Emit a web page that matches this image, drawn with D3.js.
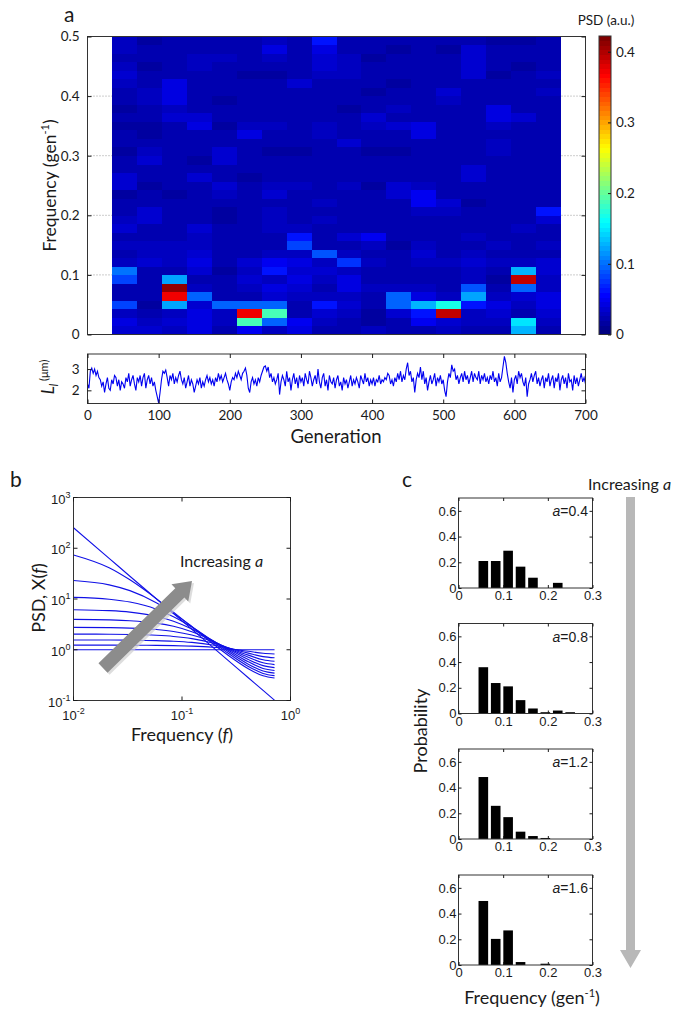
<!DOCTYPE html>
<html><head><meta charset="utf-8">
<script src="https://cdn.jsdelivr.net/npm/d3@7"></script>
<style>body{margin:0;background:#fff}svg{display:block}</style>
</head><body>
<svg id="c" width="680" height="1018"></svg>
<script>
// ---------------- DATA ----------------
// Panel a: spectrogram columns (generation window starts), rows = frequency bins (bottom -> top)
const heatColStart = [35,70,105,140,175,210,245,280,315,350,385,420,455,490,525,560,595,630];
const heatColWidth = 35;
const heatRowCount = 35;
const heatFreqMax = 0.5;
const psdCol0  = [.038,.042,.032,.080,.025,.022,.085,.102,.030,.026,.028,.024,.034,.032,.020,.024,.018,.036,.034,.022,.020,.018,.024,.020,.016,.022,.018,.020,.022,.032,.034,.030,.020,.030,.028];
const psdCol1  = [.036,.030,.020,.018,.022,.020,.026,.024,.038,.028,.030,.026,.022,.034,.036,.024,.020,.018,.022,.026,.034,.032,.020,.018,.016,.020,.022,.030,.032,.026,.020,.018,.022,.020,.018];
const psdCol2  = [.028,.034,.030,.122,.374,.410,.122,.020,.032,.028,.030,.022,.020,.024,.022,.020,.018,.020,.022,.026,.024,.020,.022,.026,.024,.034,.030,.040,.044,.040,.026,.022,.024,.020,.022];
const psdCol3  = [.040,.044,.046,.036,.098,.030,.024,.036,.040,.038,.028,.032,.036,.024,.022,.020,.024,.022,.034,.020,.018,.020,.022,.020,.046,.036,.024,.022,.020,.024,.022,.030,.032,.024,.026];
const psdCol4  = [.020,.032,.028,.098,.022,.020,.024,.018,.022,.020,.024,.026,.020,.018,.016,.022,.028,.036,.020,.026,.034,.036,.024,.020,.018,.022,.020,.018,.022,.020,.026,.024,.030,.022,.020];
const psdCol5  = [.048,.185,.374,.098,.020,.032,.036,.030,.034,.026,.022,.024,.020,.022,.026,.024,.020,.022,.018,.020,.022,.020,.024,.046,.030,.022,.020,.024,.022,.020,.018,.022,.020,.024,.022];
const psdCol6  = [.030,.098,.190,.098,.036,.040,.030,.060,.050,.028,.024,.022,.030,.028,.032,.026,.036,.030,.022,.020,.024,.018,.022,.020,.030,.026,.020,.024,.022,.020,.018,.026,.028,.040,.030];
const psdCol7  = [.044,.052,.026,.022,.030,.034,.046,.038,.042,.028,.082,.065,.030,.020,.022,.024,.026,.028,.024,.020,.022,.018,.024,.022,.020,.026,.024,.022,.026,.034,.024,.022,.020,.024,.022];
const psdCol8  = [.022,.030,.036,.060,.032,.026,.030,.038,.028,.088,.026,.024,.022,.028,.026,.030,.024,.020,.022,.024,.020,.026,.022,.030,.028,.024,.022,.026,.020,.024,.028,.034,.036,.040,.062];
const psdCol9  = [.022,.026,.030,.038,.032,.046,.046,.030,.076,.028,.026,.034,.024,.022,.026,.024,.022,.028,.024,.020,.022,.024,.034,.022,.020,.024,.018,.022,.020,.024,.030,.032,.030,.022,.020];
const psdCol10 = [.030,.018,.016,.020,.022,.030,.024,.026,.030,.024,.028,.050,.024,.020,.022,.020,.024,.018,.020,.022,.020,.018,.022,.020,.030,.034,.022,.020,.018,.020,.022,.020,.018,.020,.022];
const psdCol11 = [.022,.026,.038,.095,.095,.030,.020,.024,.022,.020,.018,.020,.022,.020,.024,.022,.034,.034,.022,.020,.024,.018,.020,.022,.034,.026,.030,.022,.020,.018,.020,.022,.020,.018,.020];
const psdCol12 = [.026,.048,.062,.131,.040,.030,.026,.024,.028,.036,.030,.024,.022,.026,.030,.052,.050,.028,.024,.026,.022,.020,.024,.040,.040,.026,.022,.020,.024,.022,.020,.022,.020,.024,.022];
const psdCol13 = [.030,.038,.394,.168,.030,.026,.024,.022,.030,.026,.024,.022,.026,.024,.028,.034,.022,.020,.024,.022,.020,.024,.022,.020,.024,.022,.020,.028,.034,.024,.020,.022,.020,.018,.020];
const psdCol14 = [.026,.030,.032,.060,.124,.090,.028,.030,.034,.028,.026,.030,.024,.022,.020,.018,.022,.024,.038,.036,.022,.020,.024,.022,.020,.024,.022,.020,.024,.026,.034,.036,.038,.034,.022];
const psdCol15 = [.022,.030,.036,.046,.030,.020,.018,.024,.030,.026,.028,.024,.022,.026,.024,.020,.026,.022,.020,.024,.022,.030,.030,.022,.028,.040,.042,.026,.022,.020,.018,.020,.022,.020,.018];
const psdCol16 = [.128,.147,.026,.030,.038,.098,.390,.126,.030,.026,.024,.022,.030,.024,.022,.020,.024,.026,.022,.020,.022,.024,.022,.020,.026,.034,.022,.026,.022,.024,.020,.018,.022,.020,.018];
const psdCol17 = [.024,.030,.036,.042,.042,.030,.028,.034,.034,.026,.030,.024,.026,.034,.062,.026,.022,.024,.022,.020,.024,.022,.020,.024,.022,.020,.022,.024,.028,.026,.030,.024,.022,.026,.024];
const psdColorMax = 0.4222;
const psdColorTicks = [0,0.1,0.2,0.3,0.4];
const heatFreqTicks = [0,0.1,0.2,0.3,0.4,0.5];

// Panel a lower: cell length trace, one value every 2 generations (0..700)
const lengthStep = 2;
const lengthVals = [
2.3,2.1,2.9,3.05,2.8,3.0,2.7,2.9,2.6,2.5,2.2,2.4,1.9,2.3,2.6,2.1,2.0,2.5,2.3,2.7,2.6,2.2,2.5,2.0,2.4,
2.3,2.1,2.6,2.4,2.8,2.2,2.5,2.7,2.3,2.0,2.6,2.4,2.7,2.2,2.6,2.8,2.1,2.5,2.7,2.3,2.6,2.2,2.4,2.0,1.7,
1.4,1.9,2.5,2.9,2.8,2.95,2.6,2.2,2.7,2.5,2.8,2.3,2.6,2.4,2.7,2.9,2.5,2.3,2.6,2.1,2.4,2.7,2.2,2.5,2.3,
1.9,2.2,2.5,2.3,2.6,2.1,2.4,2.2,2.5,2.7,2.4,2.6,2.3,2.5,2.2,2.6,2.4,2.8,2.5,2.7,2.4,2.6,2.8,2.5,2.3,
2.0,2.4,2.6,2.5,2.8,2.6,2.9,2.7,2.5,2.8,2.9,3.05,2.7,2.1,1.9,2.4,2.6,2.3,2.5,2.2,2.6,2.4,2.7,2.9,3.1,
3.15,2.9,3.1,2.6,2.8,2.4,2.6,2.3,2.5,2.8,1.8,2.4,2.7,2.5,2.2,2.9,2.4,2.6,2.0,2.5,2.8,2.3,2.6,2.1,2.7,
2.4,2.6,2.2,2.8,2.5,2.3,2.9,2.6,2.2,2.5,2.7,2.3,3.0,2.4,2.1,2.6,2.8,2.2,2.5,2.0,2.7,2.4,2.3,2.6,2.1,
2.5,2.7,2.2,2.4,2.0,2.6,2.3,2.5,2.1,2.4,2.7,2.2,2.5,2.3,2.6,2.4,2.1,2.7,2.5,2.3,2.8,2.4,2.6,2.2,2.5,
2.3,2.6,2.2,2.5,2.4,2.7,2.3,2.5,2.4,2.6,2.5,2.8,2.7,2.3,2.5,2.2,2.6,2.4,2.8,2.5,2.9,2.4,2.7,2.5,3.0,
3.3,2.7,2.9,2.4,2.6,1.9,2.5,2.8,2.6,3.1,2.5,2.9,2.3,2.6,2.0,2.4,2.7,2.3,2.5,2.8,2.2,2.6,2.4,2.7,2.3,
2.5,2.0,1.7,2.4,2.8,2.6,3.2,2.9,3.0,2.5,2.7,2.3,2.6,2.8,2.4,2.9,2.5,2.7,2.3,2.6,2.9,2.4,2.8,2.6,2.5,
2.9,2.3,2.7,2.5,2.8,2.4,2.6,2.3,2.7,2.5,2.9,2.4,2.6,2.2,2.8,2.4,2.6,3.1,3.6,3.3,2.8,2.4,2.1,2.6,1.9,
2.5,2.7,2.3,2.9,2.6,2.8,2.4,2.2,2.6,1.7,2.3,2.5,2.8,2.4,2.7,2.9,2.3,2.6,2.2,2.5,2.7,2.1,2.6,2.4,2.8,
2.2,2.5,2.7,2.1,2.6,2.4,2.8,2.0,2.5,2.7,2.3,2.6,2.1,2.8,2.4,2.5,2.0,2.7,2.3,2.6,2.2,2.5,2.8,2.4,2.6,
2.3];
const genTicks = [0,100,200,300,400,500,600,700];
const lengthTicks = [2,3];
const lengthDomain = [1.38,3.71];

// Panel b: PSD curves (x positions)
const freqB = [0.01,0.0213,0.0331,0.0579,0.0835,0.1232,0.1917,0.2624,0.4083,0.5588,0.7126];
const psdA0 = [1,1,1,1,1,1,1,1,1,1,1];
const psdA1 = [1.234,1.232,1.229,1.220,1.206,1.179,1.121,1.055,0.933,0.853,0.826];
const psdA2 = [1.561,1.555,1.545,1.516,1.475,1.396,1.242,1.091,0.859,0.733,0.694];
const psdA3 = [2.036,2.021,1.997,1.925,1.828,1.654,1.356,1.105,0.784,0.635,0.592];
const psdA4 = [2.766,2.730,2.673,2.505,2.293,1.950,1.450,1.096,0.711,0.553,0.510];
const psdA5 = [3.969,3.878,3.735,3.345,2.897,2.268,1.510,1.063,0.641,0.486,0.444];
const psdA6 = [6.159,5.901,5.517,4.572,3.647,2.569,1.528,1.011,0.578,0.429,0.391];
const psdA7 = [10.78,9.897,8.711,6.308,4.479,2.798,1.499,0.946,0.520,0.381,0.346];
const psdA8 = [23.17,19.01,14.63,8.452,5.201,2.894,1.429,0.873,0.469,0.341,0.309];
const psdA9 = [73.80,41.33,23.88,10.19,5.515,2.827,1.330,0.798,0.423,0.306,0.277];
const psdSteep = [253.3,63.3,28.1,10.13,5.17,2.533,1.126,0.633,0.281,0.158,0.101];
const psdBXTicks = [-2,-1,0];
const psdBYTicks = [-1,0,1,2,3];

// Panel c: histograms
const histCenters = [0.0556,0.0833,0.1111,0.1389,0.1667,0.1944,0.2222,0.25];
const histA04 = [0.21,0.21,0.29,0.166,0.08,0,0.04,0];
const histA08 = [0.36,0.237,0.211,0.104,0.039,0.01,0.023,0.01];
const histA12 = [0.482,0.258,0.17,0.057,0.023,0.008,0,0];
const histA16 = [0.498,0.203,0.269,0.023,0,0.01,0,0];
const histLabels = ["0.4","0.8","1.2","1.6"];
const histXTicks = [0,0.1,0.2,0.3];
const histYTicks = [0,0.2,0.4,0.6];

// ---------------- DRAW ----------------
const svg = d3.select('#c');
const CAL = 'Lato, "Open Sans", sans-serif';
const HEL = '"Liberation Sans", Arial, sans-serif';
const INK = '#1a1a1a';

function jet(v){
  let t = Math.max(0, Math.min(1, v / psdColorMax));
  const i = Math.min(63, Math.floor(t * 64));
  const q = i / 63;
  const cl = x => Math.max(0, Math.min(1, x));
  return d3.rgb(255*cl(1.5-Math.abs(4*q-3)), 255*cl(1.5-Math.abs(4*q-2)), 255*cl(1.5-Math.abs(4*q-1))).toString();
}
function styleAxis(g, font, size){
  g.select('.domain').remove();
  g.selectAll('line').attr('stroke', INK).attr('stroke-width', 1);
  g.selectAll('text').attr('font-family', font).attr('font-size', size).attr('fill', INK);
}
function box(x0,y0,x1,y1){
  svg.append('rect').attr('x',x0).attr('y',y0).attr('width',x1-x0).attr('height',y1-y0)
    .attr('fill','none').attr('stroke','#333').attr('stroke-width',1);
}
function panelLetter(t,x,y){
  svg.append('text').attr('x',x).attr('y',y).text(t).attr('font-family',CAL).attr('font-size',21).attr('fill',INK);
}

// ===== Panel a =====
panelLetter('a', 64, 22);
const A = {x0:87.5, x1:585.5, y0:36.5, y1:334.5};
const xA = d3.scaleLinear([0,700],[A.x0,A.x1]);
const yA = d3.scaleLinear([0,heatFreqMax],[A.y1,A.y0]);
svg.append('g').selectAll('line').data([0.1,0.2,0.3,0.4]).join('line')
  .attr('x1',A.x0).attr('x2',A.x1).attr('y1',d=>yA(d)).attr('y2',d=>yA(d))
  .attr('stroke','#9a9a9a').attr('stroke-width',1).attr('stroke-dasharray','1,2');
const heatCols = [psdCol0,psdCol1,psdCol2,psdCol3,psdCol4,psdCol5,psdCol6,psdCol7,psdCol8,psdCol9,psdCol10,psdCol11,psdCol12,psdCol13,psdCol14,psdCol15,psdCol16,psdCol17];
const binW = heatFreqMax / heatRowCount;
const cells = [];
heatCols.forEach((col,ci)=>col.forEach((v,ri)=>cells.push({g:heatColStart[ci], r:ri, v})));
svg.append('g').selectAll('rect').data(cells).join('rect')
  .attr('x',d=>xA(d.g)).attr('width',d=>xA(d.g+heatColWidth)-xA(d.g)+0.3)
  .attr('y',d=>yA((d.r+1)*binW)).attr('height',d=>yA(d.r*binW)-yA((d.r+1)*binW)+0.3)
  .attr('fill',d=>jet(d.v)).attr('shape-rendering','crispEdges');
box(A.x0,A.y0,A.x1,A.y1);
const gAy = svg.append('g').attr('transform',`translate(${A.x0},0)`)
  .call(d3.axisLeft(yA).tickValues(heatFreqTicks).tickSizeInner(-4).tickSizeOuter(0).tickPadding(8).tickFormat(d=>d===0?'0':String(d)));
styleAxis(gAy, CAL, 13.5);
const gAyr = svg.append('g').attr('transform',`translate(${A.x1},0)`)
  .call(d3.axisRight(yA).tickValues(heatFreqTicks).tickSizeInner(-4).tickSizeOuter(0).tickFormat(''));
styleAxis(gAyr, CAL, 13);
const ylA = svg.append('text').attr('transform',`translate(56,${(A.y0+A.y1)/2}) rotate(-90)`)
  .attr('text-anchor','middle').attr('font-family',CAL).attr('font-size',17.5).attr('fill',INK);
ylA.append('tspan').text('Frequency (gen');
ylA.append('tspan').text('-1').attr('font-size',11).attr('dy',-7);
ylA.append('tspan').text(')').attr('dy',7);

// colorbar
const CB = {x0:599, x1:611, y0:36, y1:334.5};
const yCB = d3.scaleLinear([0,psdColorMax],[CB.y1,CB.y0]);
const cbSteps = d3.range(64);
svg.append('g').selectAll('rect').data(cbSteps).join('rect')
  .attr('x',CB.x0).attr('width',CB.x1-CB.x0)
  .attr('y',i=>yCB((i+1)/64*psdColorMax)).attr('height',i=>yCB(i/64*psdColorMax)-yCB((i+1)/64*psdColorMax)+0.5)
  .attr('fill',i=>jet((i+0.5)/64*psdColorMax)).attr('shape-rendering','crispEdges');
box(CB.x0,CB.y0,CB.x1,CB.y1);
const gCB = svg.append('g').attr('transform',`translate(${CB.x1},0)`)
  .call(d3.axisRight(yCB).tickValues(psdColorTicks).tickSizeInner(-3).tickSizeOuter(0).tickPadding(5).tickFormat(d=>d===0?'0':String(d)));
styleAxis(gCB, CAL, 13.5);
svg.append('text').attr('x',606).attr('y',25).attr('text-anchor','middle').text('PSD (a.u.)')
  .attr('font-family',CAL).attr('font-size',13.5).attr('fill',INK);

// time series
const T = {x0:87.5, x1:585.5, y0:354, y1:403.5};
const xT = d3.scaleLinear([0,700],[T.x0,T.x1]);
const yT = d3.scaleLinear(lengthDomain,[T.y1,T.y0]);
const line = d3.line().x((d,i)=>xT(i*lengthStep)).y(d=>yT(d));
svg.append('path').datum(lengthVals).attr('d',line).attr('fill','none').attr('stroke','#0000f0').attr('stroke-width',1.1);
box(T.x0,T.y0,T.x1,T.y1);
const gTx = svg.append('g').attr('transform',`translate(0,${T.y1})`)
  .call(d3.axisBottom(xT).tickValues(genTicks).tickSizeInner(-4).tickSizeOuter(0).tickPadding(7));
styleAxis(gTx, CAL, 13.5);
const gTxt = svg.append('g').attr('transform',`translate(0,${T.y0})`)
  .call(d3.axisTop(xT).tickValues(genTicks).tickSizeInner(-4).tickSizeOuter(0).tickFormat(''));
styleAxis(gTxt, CAL, 13);
const gTy = svg.append('g').attr('transform',`translate(${T.x0},0)`)
  .call(d3.axisLeft(yT).tickValues(lengthTicks).tickSizeInner(-4).tickSizeOuter(0).tickPadding(8).tickFormat(d3.format('d')));
styleAxis(gTy, CAL, 13.5);
const gTyr = svg.append('g').attr('transform',`translate(${T.x1},0)`)
  .call(d3.axisRight(yT).tickValues(lengthTicks).tickSizeInner(-4).tickSizeOuter(0).tickFormat(''));
styleAxis(gTyr, CAL, 13);
const ylT = svg.append('text').attr('transform',`translate(54,377) rotate(-90)`)
  .attr('text-anchor','middle').attr('font-family',CAL).attr('fill',INK);
ylT.append('tspan').text('L').attr('font-style','italic').attr('font-size',17);
ylT.append('tspan').text('l').attr('font-style','italic').attr('font-size',11).attr('dy',4);
ylT.append('tspan').text(' (μm)').attr('font-size',11).attr('dy',-10);
svg.append('text').attr('x',336).attr('y',443).attr('text-anchor','middle').text('Generation')
  .attr('font-family',CAL).attr('font-size',18.5).attr('fill',INK);

// ===== Panel b =====
panelLetter('b', 10, 487);
const B = {x0:73.5, x1:290.5, y0:497.5, y1:700.5};
const xB = d3.scaleLog([0.01,1],[B.x0,B.x1]);
const yB = d3.scaleLog([0.1,1000],[B.y1,B.y0]);
const psdCurves = [psdA0,psdA1,psdA2,psdA3,psdA4,psdA5,psdA6,psdA7,psdA8,psdA9,psdSteep];
const lineB = d3.line().x((d,i)=>xB(freqB[i])).y(d=>yB(d)).curve(d3.curveMonotoneX);
svg.append('g').selectAll('path').data(psdCurves).join('path')
  .attr('d',lineB).attr('fill','none').attr('stroke','#1010e6').attr('stroke-width',1.1);
box(B.x0,B.y0,B.x1,B.y1);
psdBXTicks.forEach(e=>{
  const x = xB(Math.pow(10,e));
  svg.append('line').attr('x1',x).attr('x2',x).attr('y1',B.y1).attr('y2',B.y1-4).attr('stroke',INK);
  svg.append('line').attr('x1',x).attr('x2',x).attr('y1',B.y0).attr('y2',B.y0+4).attr('stroke',INK);
  const t = svg.append('text').attr('x',x).attr('y',B.y1+19).attr('text-anchor','middle')
    .attr('font-family',HEL).attr('font-size',13).attr('fill',INK);
  t.append('tspan').text('10');
  t.append('tspan').text(e<0?'-'+(-e):String(e)).attr('font-size',9).attr('dy',-6);
});
psdBYTicks.forEach(e=>{
  const y = yB(Math.pow(10,e));
  svg.append('line').attr('x1',B.x0).attr('x2',B.x0+4).attr('y1',y).attr('y2',y).attr('stroke',INK);
  svg.append('line').attr('x1',B.x1).attr('x2',B.x1-4).attr('y1',y).attr('y2',y).attr('stroke',INK);
  const t = svg.append('text').attr('x',B.x0-3).attr('y',y+6).attr('text-anchor','end')
    .attr('font-family',HEL).attr('font-size',13).attr('fill',INK);
  t.append('tspan').text('10');
  t.append('tspan').text(e<0?'-'+(-e):String(e)).attr('font-size',9).attr('dy',-6);
});
function arrowPts(T0,P,w,hw,hl){
  const dx=P[0]-T0[0], dy=P[1]-T0[1], L=Math.hypot(dx,dy), ux=dx/L, uy=dy/L, nx=-uy, ny=ux;
  const Bx=P[0]-hl*ux, By=P[1]-hl*uy;
  return [[T0[0]+nx*w,T0[1]+ny*w],[Bx+nx*w,By+ny*w],[Bx+nx*hw,By+ny*hw],P,[Bx-nx*hw,By-ny*hw],[Bx-nx*w,By-ny*w],[T0[0]-nx*w,T0[1]-ny*w]];
}
const arB = arrowPts([103,668],[192,581],6.5,12,17);
svg.append('polygon').attr('points',arB.map(p=>[p[0]+2,p[1]+2].join(',')).join(' ')).attr('fill','#cfcfcf').attr('opacity',0.7);
svg.append('polygon').attr('points',arB.map(p=>p.join(',')).join(' ')).attr('fill','#8c8c8c');
const incB = svg.append('text').attr('x',180).attr('y',567).attr('font-family',CAL).attr('font-size',16).attr('fill',INK);
incB.append('tspan').text('Increasing ');
incB.append('tspan').text('a').attr('font-style','italic');
const xlB = svg.append('text').attr('x',182).attr('y',741).attr('text-anchor','middle').attr('font-family',CAL).attr('font-size',18).attr('fill',INK);
xlB.append('tspan').text('Frequency (');
xlB.append('tspan').text('f').attr('font-style','italic');
xlB.append('tspan').text(')');
const ylB = svg.append('text').attr('transform',`translate(45,598) rotate(-90)`).attr('text-anchor','middle').attr('font-family',CAL).attr('font-size',18).attr('fill',INK);
ylB.append('tspan').text('PSD, X(');
ylB.append('tspan').text('f').attr('font-style','italic');
ylB.append('tspan').text(')');

// ===== Panel c =====
panelLetter('c', 402, 487);
const incC = svg.append('text').attr('x',588).attr('y',490).attr('font-family',CAL).attr('font-size',16).attr('fill',INK);
incC.append('tspan').text('Increasing ');
incC.append('tspan').text('a').attr('font-style','italic');
const arC = [[626,497],[635,497],[635,950],[641,950],[630.5,968],[620,950],[626,950]];
svg.append('polygon').attr('points',arC.map(p=>p.join(',')).join(' ')).attr('fill','#b8b8b8');

const hists = [histA04,histA08,histA12,histA16];
const histTops = [498,623.5,749,875];
const xC = d3.scaleLinear([0,0.3],[458.5,592.5]);
const barW = 0.0215;
hists.forEach((h,k)=>{
  const top = histTops[k], bot = top+90;
  const yC = d3.scaleLinear([0,0.7],[bot,top]);
  const g = svg.append('g');
  g.selectAll('rect').data(h.map((v,i)=>({c:histCenters[i],v}))).join('rect')
    .attr('x',d=>xC(d.c-barW/2)).attr('width',d=>xC(d.c+barW/2)-xC(d.c-barW/2))
    .attr('y',d=>yC(d.v)).attr('height',d=>yC(0)-yC(d.v)).attr('fill','#000');
  box(xC(0),top,xC(0.3),bot);
  const gx = svg.append('g').attr('transform',`translate(0,${bot})`)
    .call(d3.axisBottom(xC).tickValues(histXTicks).tickSizeInner(-3).tickSizeOuter(0).tickPadding(3).tickFormat(d=>d===0?'0':String(d)));
  styleAxis(gx, HEL, 13);
  const gxt = svg.append('g').attr('transform',`translate(0,${top})`)
    .call(d3.axisTop(xC).tickValues(histXTicks).tickSizeInner(-3).tickSizeOuter(0).tickFormat(''));
  styleAxis(gxt, HEL, 13);
  const gy = svg.append('g').attr('transform',`translate(${xC(0)},0)`)
    .call(d3.axisLeft(yC).tickValues(histYTicks).tickSizeInner(-3).tickSizeOuter(0).tickPadding(2).tickFormat(d=>d===0?'0':String(d)));
  styleAxis(gy, HEL, 13);
  const gyr = svg.append('g').attr('transform',`translate(${xC(0.3)},0)`)
    .call(d3.axisRight(yC).tickValues(histYTicks).tickSizeInner(-3).tickSizeOuter(0).tickFormat(''));
  styleAxis(gyr, HEL, 13);
  const lab = svg.append('text').attr('x',588).attr('y',top+18).attr('text-anchor','end')
    .attr('font-family',HEL).attr('font-size',14).attr('fill',INK);
  lab.append('tspan').text('a').attr('font-style','italic');
  lab.append('tspan').text('='+histLabels[k]);
});
svg.append('text').attr('transform',`translate(427,731) rotate(-90)`).attr('text-anchor','middle')
  .text('Probability').attr('font-family',CAL).attr('font-size',18).attr('fill',INK);
const xlC = svg.append('text').attr('x',532).attr('y',1004).attr('text-anchor','middle').attr('font-family',CAL).attr('font-size',18).attr('fill',INK);
xlC.append('tspan').text('Frequency (gen');
xlC.append('tspan').text('-1').attr('font-size',11).attr('dy',-7);
xlC.append('tspan').text(')').attr('dy',7);
</script>
</body></html>
